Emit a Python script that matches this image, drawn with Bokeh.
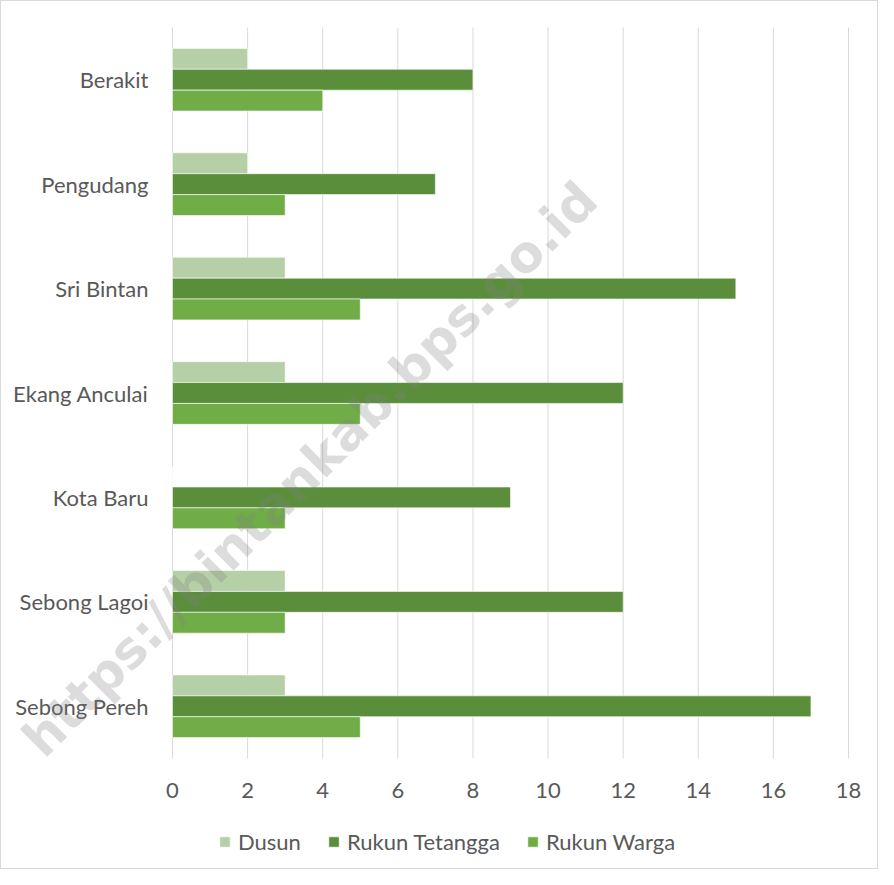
import numpy as np
from bokeh.plotting import figure
from bokeh.models import ColumnDataSource, Range1d, Legend, LegendItem, Label
from bokeh.embed import file_html
from bokeh.resources import INLINE
from bokeh.core.properties import value

categories = ["Berakit", "Pengudang", "Sri Bintan", "Ekang Anculai", "Kota Baru", "Sebong Lagoi", "Sebong Pereh"]
dusun = [2, 2, 3, 3, 0, 3, 3]
rukun_tetangga = [8, 7, 15, 12, 9, 12, 17]
rukun_warga = [4, 3, 5, 5, 3, 3, 5]
x_ticks = [0, 2, 4, 6, 8, 10, 12, 14, 16, 18]
series_names = ["Dusun", "Rukun Tetangga", "Rukun Warga"]
colors = ["#B5CFA6", "#5B8E3A", "#70AD47"]
watermark = "https://bintankab.bps.go.id"

FONT = "Lato"
TXT = "#595959"

n = len(categories)
y_center = n - np.arange(n) - 0.5          # category band centres (top to bottom)
BAR = 0.2

src = ColumnDataSource(dict(cat=categories, yc=y_center,
                            y_d=y_center + BAR, y_t=y_center, y_w=y_center - BAR,
                            dusun=dusun, rt=rukun_tetangga, rw=rukun_warga))

p = figure(width=878, height=869,
           x_range=Range1d(-4.553, 18.825), y_range=Range1d(-1.0725, n + 0.249),
           x_axis_location=None, y_axis_location=None,
           output_backend="svg", toolbar_location=None,
           min_border=0, min_border_left=0, min_border_right=0, min_border_top=0, min_border_bottom=0)
p.styles = {"border": "1px solid #d9d9d9"}
p.outline_line_color = None
p.background_fill_color = "white"
p.border_fill_color = "white"
p.xgrid.visible = False
p.ygrid.visible = False

# vertical gridlines at the value ticks, spanning the category area
gsrc = ColumnDataSource(dict(x=x_ticks, y0=[0] * len(x_ticks), y1=[n] * len(x_ticks),
                             lab=[str(t) for t in x_ticks], ly=[-0.306] * len(x_ticks)))
p.segment(x0="x", y0="y0", x1="x", y1="y1", source=gsrc, line_color="#d9d9d9", line_width=1)

r1 = p.hbar(y="y_d", right="dusun", height=BAR, source=src,
            fill_color=colors[0], line_color="white", line_width=0.6)
r2 = p.hbar(y="y_t", right="rt", height=BAR, source=src,
            fill_color=colors[1], line_color="white", line_width=0.6)
r3 = p.hbar(y="y_w", right="rw", height=BAR, source=src,
            fill_color=colors[2], line_color="white", line_width=0.6)

# category labels
p.text(x=-0.64, y="yc", text="cat", source=src, text_align="right", text_baseline="middle",
       text_font=value(FONT), text_font_size="22px", text_color=TXT)
# value tick labels
p.text(x="x", y="ly", text="lab", source=gsrc, text_align="center", text_baseline="middle",
       text_font=value(FONT), text_font_size="22px", text_color=TXT)

wm = Label(x=3.66, y=2.77, text=watermark, angle=45, angle_units="deg",
           text_align="center", text_baseline="middle",
           text_font="DejaVu Sans", text_font_style="bold", text_font_size="51px",
           text_color="#808080", text_alpha=0.28)
p.add_layout(wm)

legend = Legend(items=[LegendItem(label=s, renderers=[r]) for s, r in zip(series_names, [r1, r2, r3])],
                orientation="horizontal", location=(217, 15))
legend.label_text_font = FONT
legend.label_text_font_size = "22px"
legend.label_text_color = TXT
legend.glyph_width = 13
legend.glyph_height = 13
legend.label_standoff = 7
legend.spacing = 26
legend.padding = 0
legend.margin = 0
legend.border_line_color = None
legend.background_fill_alpha = 0
p.add_layout(legend, "center")

open("out.html", "w").write(file_html(p, INLINE))
